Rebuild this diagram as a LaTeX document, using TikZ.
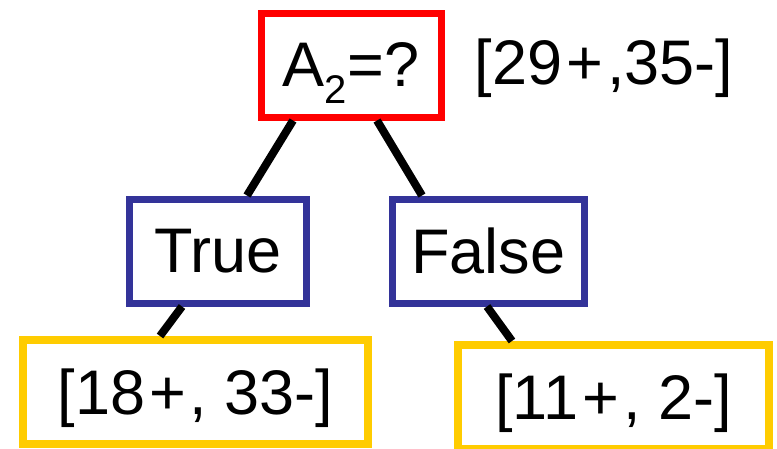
\documentclass[tikz,border=0pt]{standalone}
\usepackage{fontspec}
\setmainfont{Liberation Sans}
\usepackage{xcolor}
\usetikzlibrary{calc, positioning}

\definecolor{rootred}{RGB}{255,0,0}
\definecolor{valblue}{RGB}{51,51,153}
\definecolor{leafyellow}{RGB}{255,204,0}
\newcommand{\pl}{\kern4pt+\kern4pt}

\begin{document}
\begin{tikzpicture}[x=1pt, y=-1pt,
    box/.style={fill=white, inner sep=0pt, minimum height=104pt,
        text depth=0pt, font=\fontsize{63}{70}\selectfont},
    rootbox/.style={box, draw=rootred, line width=7pt},
    valbox/.style={box, draw=valblue, line width=7pt},
    leafbox/.style={box, draw=leafyellow, line width=8pt},
    edge/.style={line width=8pt}]
    \useasboundingbox (0,0) rectangle (777,448);

    % Nút gốc
    \node[rootbox, minimum width=180pt] (attr) at (351,65)
        {A\raisebox{-17pt}{\fontsize{40}{40}\selectfont 2}=?};
    \node[font=\fontsize{63}{70}\selectfont] (count) at (604,68) {[29\pl,35-]};

    % Hai nhánh
    \node[valbox, minimum width=176.5pt] (vtrue) at (218,251) {True};
    \node[valbox, minimum width=192pt] (vfalse) at (488.5,251) {False};

    % Các lá
    \node[leafbox, minimum width=345pt] (ltrue) at (195.5,392) {[18\pl, 33-]};
    \node[leafbox, minimum width=311pt] (lfalse) at (613.5,397) {[11\pl, 2-]};

    % Nối các nút
    \draw[edge] ([xshift=-58pt]attr.south) -- ([xshift=29pt]vtrue.north);
    \draw[edge] ([xshift=26pt]attr.south) -- ([xshift=-66.5pt]vfalse.north);
    \draw[edge] ([xshift=-36pt]vtrue.south) -- ([xshift=-35.5pt]ltrue.north);
    \draw[edge] ([xshift=-1.5pt]vfalse.south) -- ([xshift=-101.5pt]lfalse.north);
\end{tikzpicture}
\end{document}
